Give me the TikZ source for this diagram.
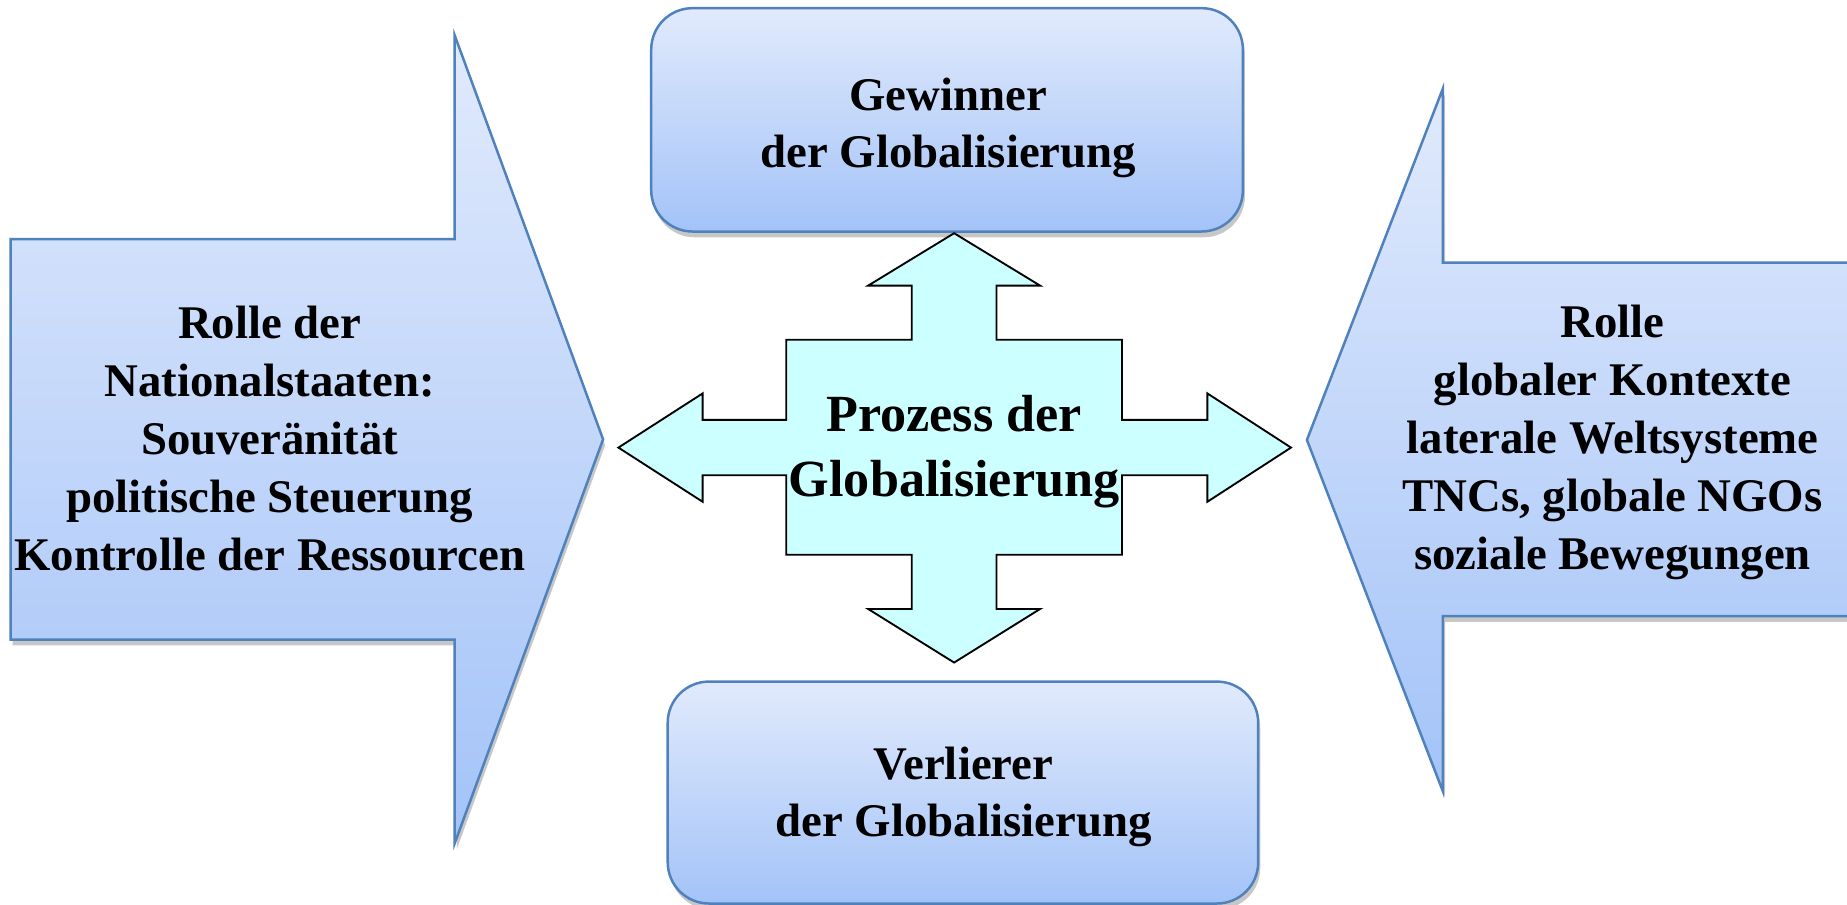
\documentclass[tikz,border=0pt]{standalone}
\usepackage{fontspec}
\setmainfont{Liberation Serif}
\usetikzlibrary{shadows}
\definecolor{edgeblue}{RGB}{79,129,189}
\definecolor{gtop}{RGB}{225,234,252}
\definecolor{gbot}{RGB}{163,195,248}
\definecolor{crossfill}{RGB}{204,255,255}
\begin{document}
\begin{tikzpicture}[x=0.01cm,y=-0.01cm,
  blueshape/.style={draw=edgeblue, line width=0.6pt, top color=gtop, bottom color=gbot},
  softshadow/.style={drop shadow={shadow xshift=0.5pt, shadow yshift=-1.4pt, opacity=0.22, fill=black}},
  roundbox/.style={blueshape, softshadow, rounded corners=0.35cm, inner sep=0pt},
  crossshape/.style={draw=black, line width=0.45pt, fill=crossfill},
  sidetext/.style={align=center, inner sep=0pt, anchor=base, font=\fontsize{11.3}{14}\selectfont\bfseries},
  boxtext/.style={align=center, inner sep=0pt, anchor=base, font=\fontsize{11.3}{13.7}\selectfont\bfseries},
  centertext/.style={align=center, inner sep=0pt, anchor=base, font=\fontsize{12.6}{15.7}\selectfont\bfseries}
]
\useasboundingbox (0,0) rectangle (1568,768);
\clip (0,0) rectangle (1568,768);

% left arrow
\path[blueshape, softshadow] (9,203) -- (386,203) -- (386,30) -- (512,373) -- (386,716) -- (386,543) -- (9,543) -- cycle;
% right arrow
\path[blueshape, softshadow] (1109.5,373.5) -- (1225,75) -- (1225,223) -- (1620,223) -- (1620,523) -- (1225,523) -- (1225,672) -- cycle;

% boxes
\node[roundbox, minimum width=5.02cm, minimum height=1.895cm] (gew) at (804,101.75) {};
\node[roundbox, minimum width=5.01cm, minimum height=1.883cm] (verl) at (817.5,672.85) {};

% central cross
\path[crossshape] (810,198) -- (883,242.5) -- (846,242.5) -- (846,288.5) -- (952.5,288.5) -- (952.5,356.5) -- (1025,356.5) -- (1025,334) -- (1096,380) -- (1025,426) -- (1025,403.5) -- (952.5,403.5) -- (952.5,471) -- (846,471) -- (846,517) -- (883,517) -- (810,562.5) -- (737,517) -- (774,517) -- (774,471) -- (667.5,471) -- (667.5,403.5) -- (596.5,403.5) -- (596.5,426) -- (525,380) -- (596.5,334) -- (596.5,356.5) -- (667.5,356.5) -- (667.5,288.5) -- (774,288.5) -- (774,242.5) -- (737,242.5) -- cycle;

% texts (anchor=base is the baseline of the last line)
\node[sidetext] (lefttext) at (229,484) {Rolle der\\Nationalstaaten:\\Souveränität\\politische Steuerung\\Kontrolle der Ressourcen};
\node[sidetext] (righttext) at (1369,483.5) {Rolle\\globaler Kontexte\\laterale Weltsysteme\\TNCs, globale NGOs\\soziale Bewegungen};
\node[boxtext] (gewtext) at (805,142) {Gewinner\\der Globalisierung};
\node[boxtext] (verltext) at (818,710) {Verlierer\\der Globalisierung};
\node[centertext] (prozess) at (810,421.6) {Prozess der\\Globalisierung};
\end{tikzpicture}
\end{document}
